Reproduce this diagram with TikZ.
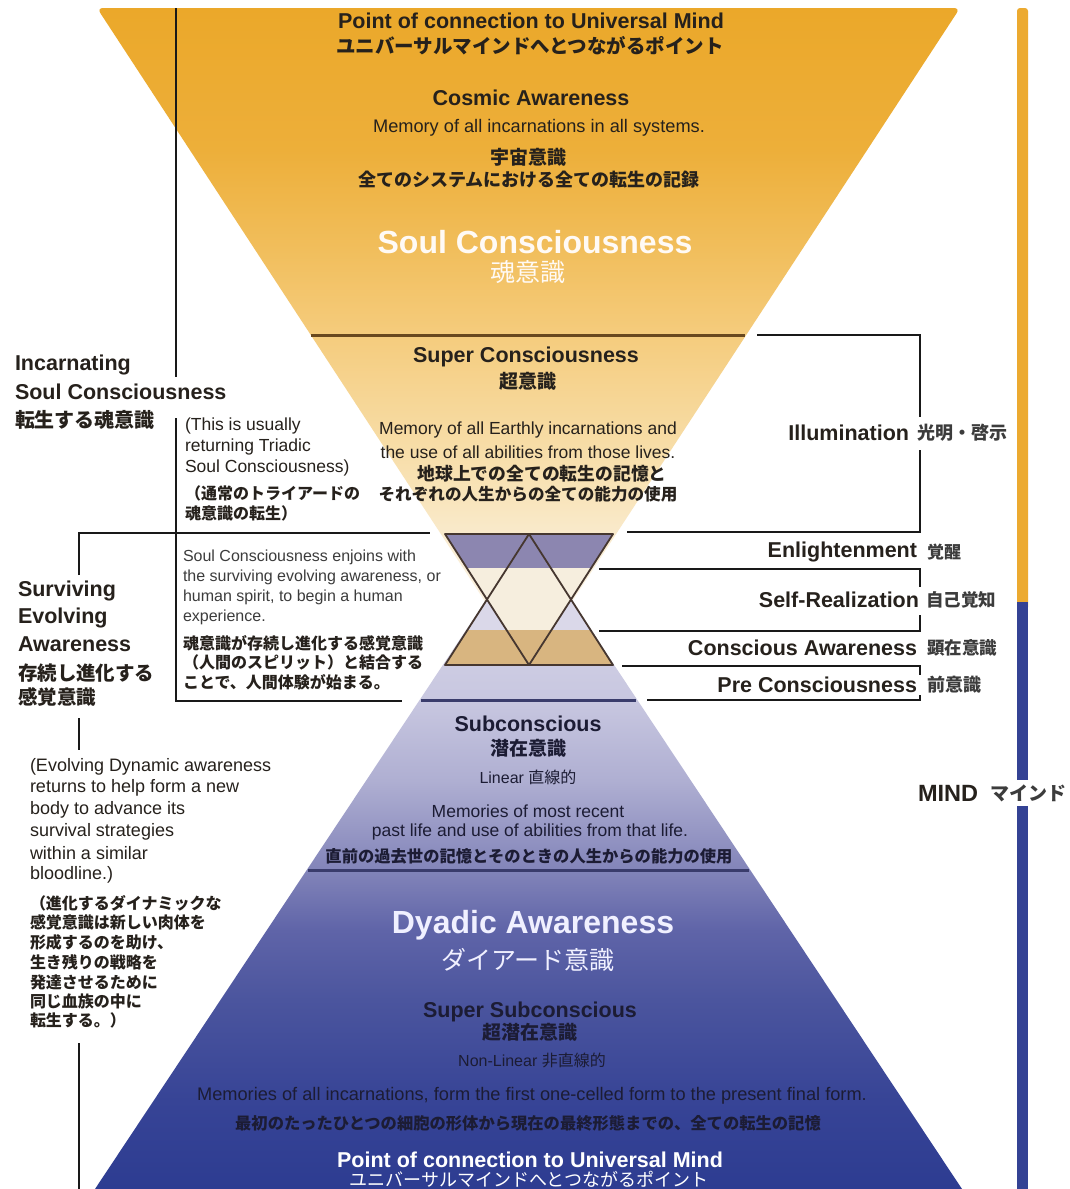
\documentclass[tikz,border=0pt]{standalone}
\usepackage{fontspec}
\setmainfont{Liberation Sans}
\newfontfamily\jpfont{Noto Sans CJK JP}
\newcommand\J[1]{{\jpfont #1}}
\newcommand\szH{\fontsize{21.5}{24}\selectfont\bfseries}
\newcommand\szB{\fontsize{17.5}{20}\selectfont}
\newcommand\szS{\fontsize{16}{19}\selectfont}
\newcommand\szBig{\fontsize{32}{36}\selectfont\bfseries}
\definecolor{ink}{RGB}{38,33,28}
\definecolor{inkb}{RGB}{28,28,52}
\definecolor{inkg}{RGB}{60,60,60}
\definecolor{lineblk}{RGB}{25,25,25}
\definecolor{orline}{RGB}{105,72,30}
\definecolor{blline}{RGB}{58,60,108}
\definecolor{barorange}{RGB}{236,170,48}
\definecolor{barblue}{RGB}{52,66,148}
\definecolor{hexpurple}{RGB}{140,134,176}
\definecolor{hexlav}{RGB}{218,216,233}
\definecolor{hexcream}{RGB}{246,238,222}
\definecolor{hextan}{RGB}{216,181,128}
\definecolor{hexline}{RGB}{70,55,48}
\definecolor{oa}{RGB}{252,246,236}
\definecolor{ob}{RGB}{250,238,215}
\definecolor{oc}{RGB}{248,226,180}
\definecolor{od}{RGB}{246,214,150}
\definecolor{oe}{RGB}{245,204,125}
\definecolor{of}{RGB}{241,190,92}
\definecolor{og}{RGB}{237,175,58}
\definecolor{oh}{RGB}{235,168,42}
\definecolor{ba}{RGB}{45,60,145}
\definecolor{bb}{RGB}{55,68,150}
\definecolor{bc}{RGB}{75,85,158}
\definecolor{bd}{RGB}{95,100,168}
\definecolor{be}{RGB}{130,132,185}
\definecolor{bf}{RGB}{175,175,210}
\definecolor{bg}{RGB}{200,199,224}
\definecolor{bh}{RGB}{222,220,235}
\pgfdeclareverticalshading{orangefun}{100bp}{color(0bp)=(oa); color(25bp)=(oa); color(33.2bp)=(ob); color(39.2bp)=(oc); color(45.3bp)=(od); color(50.2bp)=(oe); color(56.7bp)=(of); color(64.2bp)=(og); color(75bp)=(oh); color(100bp)=(oh)}
\pgfdeclareverticalshading{bluefun}{100bp}{color(0bp)=(ba); color(25bp)=(ba); color(31.8bp)=(bb); color(39.5bp)=(bc); color(44.8bp)=(bd); color(49.4bp)=(be); color(56.3bp)=(bf); color(62.4bp)=(bg); color(75bp)=(bh); color(100bp)=(bh)}
\begin{document}
\begin{tikzpicture}[x=1pt,y=-1pt,
  txt/.style={inner sep=0pt, outer sep=0pt, text=ink},
  lt/.style={txt, anchor=west},
  rt/.style={txt, anchor=east},
  wt/.style={txt, text=white},
  bt/.style={txt, text=inkb},
  brk/.style={draw=lineblk, line width=1.8pt},
  orsep/.style={draw=orline, line width=3pt},
  blsep/.style={draw=blline, line width=3pt},
  hexedge/.style={draw=hexline, line width=1.8pt, line join=round}]
\useasboundingbox (0,0) rectangle (1069,1189);
\fill[white] (0,0) rectangle (1069,1189);

% funnels
\shade[shading=bluefun] (528.5,536) -- (962,1189) -- (95,1189) -- cycle;
\shade[shading=orangefun, rounded corners=6pt] (97,8) -- (960,8) -- (528.5,668) -- cycle;

% hexagram
\begin{scope}
  \clip (445,534) -- (613,534) -- (529,665) -- cycle (613,665) -- (445,665) -- (529,534) -- cycle;
  \fill[hexpurple] (440,534) rectangle (620,568);
  \fill[hexlav] (440,568) rectangle (620,630);
  \fill[hextan] (440,630) rectangle (620,665);
\end{scope}
\begin{scope}
  \clip (445,534) -- (613,534) -- (529,665) -- cycle;
  \fill[hexcream] (440,568) rectangle (620,630);
\end{scope}
\draw[hexedge] (445,534) -- (613,534) -- (529,665) -- cycle;
\draw[hexedge] (445,665) -- (613,665) -- (529,534) -- cycle;

% separators
\draw[orsep] (311,335) -- (745,335);
\draw[blsep] (421,700) -- (636,700);
\draw[blsep] (308,870) -- (749,870);

% right bar
\fill[barorange, rounded corners=3pt] (1017,8) rectangle (1028,610);
\fill[barblue] (1017,602) rectangle (1028,1189);

% left lines
\draw[brk] (176,8) -- (176,377);
\draw[brk] (176,418) -- (176,701) -- (402,701);
\draw[brk] (79,575) -- (79,533) -- (430,533);
\draw[brk] (79,718) -- (79,750);
\draw[brk] (79,1043) -- (79,1189);

% right brackets
\draw[brk] (757,335) -- (920,335) -- (920,417);
\draw[brk] (920,450) -- (920,532) -- (627,532);
\draw[brk] (599,569) -- (920,569) -- (920,587);
\draw[brk] (920,615) -- (920,631) -- (599,631);
\draw[brk] (622,666) -- (920,666) -- (920,675);
\draw[brk] (920,695) -- (920,700) -- (647,700);

% top funnel texts
\node[txt, font=\szH] (pcu) at (531,21) {Point of connection to Universal Mind};
\node[txt, font=\fontsize{19.5}{22}\selectfont\bfseries] (pcuj) at (530,46) {\J{ユニバーサルマインドへとつながるポイント}};
\node[txt, font=\szH] (cosmic) at (531,98) {Cosmic Awareness};
\node[txt, font=\fontsize{18.2}{21}\selectfont] (cosmicm) at (539,128) {Memory of all incarnations in all systems.};
\node[txt, font=\fontsize{19}{22}\selectfont\bfseries] (cosmicj) at (528,157) {\J{宇宙意識}};
\node[txt, font=\fontsize{18}{21}\selectfont\bfseries] (cosmicjm) at (529,180) {\J{全てのシステムにおける全ての転生の記録}};
\node[wt, font=\szBig, text=white!96!orange] (soul) at (535,242) {Soul Consciousness};
\node[wt, font=\fontsize{25}{28}\selectfont, text=white!96!orange] (soulj) at (528,272) {\J{魂意識}};

\node[txt, font=\szH] (super) at (526,357) {Super Consciousness};
\node[txt, font=\fontsize{19}{22}\selectfont\bfseries] (superj) at (528,381) {\J{超意識}};
\node[txt, font=\szB] (superm1) at (528,430) {Memory of all Earthly incarnations and};
\node[txt, font=\szB] (superm2) at (528,452) {the use of all abilities from those lives.};
\node[txt, font=\fontsize{17.8}{20}\selectfont\bfseries] (superj1) at (542,474) {\J{地球上での全ての転生の記憶と}};
\node[txt, font=\fontsize{16.6}{20}\selectfont\bfseries] (superj2) at (528,494) {\J{それぞれの人生からの全ての能力の使用}};

% bottom funnel texts
\node[bt, font=\szH] (subc) at (528,724) {Subconscious};
\node[bt, font=\fontsize{19}{22}\selectfont\bfseries] (subcj) at (528,748) {\J{潜在意識}};
\node[bt, font=\szS] (linear) at (528,777) {Linear \J{直線的}};
\node[bt, font=\szB] (subm1) at (528,811) {Memories of most recent};
\node[bt, font=\szB] (subm2) at (530,832) {past life and use of abilities from that life.};
\node[bt, font=\fontsize{16.3}{19}\selectfont\bfseries] (subj) at (529,856) {\J{直前の過去世の記憶とそのときの人生からの能力の使用}};
\node[wt, font=\szBig, text=white!94!blue] (dyadic) at (533,925) {Dyadic Awareness};
\node[wt, font=\fontsize{25}{28}\selectfont, text=white!94!blue] (dyadicj) at (528,960) {\J{ダイアード意識}};
\node[bt, font=\szH] (ssub) at (530,1012) {Super Subconscious};
\node[bt, font=\fontsize{19}{22}\selectfont\bfseries] (ssubj) at (530,1032) {\J{超潜在意識}};
\node[bt, font=\szS] (nonlin) at (532,1060) {Non-Linear \J{非直線的}};
\node[bt, font=\fontsize{18.2}{21}\selectfont] (ssubm) at (532,1096) {Memories of all incarnations, form the first one-celled form to the present final form.};
\node[bt, font=\fontsize{16.3}{19}\selectfont\bfseries] (ssubmj) at (528,1123) {\J{最初のたったひとつの細胞の形体から現在の最終形態までの、全ての転生の記憶}};
\node[wt, font=\szH] (pcl) at (530,1160) {Point of connection to Universal Mind};
\node[wt, font=\fontsize{18}{21}\selectfont] (pclj) at (529,1179) {\J{ユニバーサルマインドへとつながるポイント}};

% left texts
\node[lt, font=\szH] (inc1) at (15,365) {Incarnating};
\node[lt, font=\szH] (inc2) at (15,392) {Soul Consciousness};
\node[lt, font=\fontsize{20}{23}\selectfont\bfseries] (incj) at (15,420) {\J{転生する魂意識}};
\node[lt, font=\szB] (tri1) at (185,426) {(This is usually};
\node[lt, font=\szB] (tri2) at (185,447) {returning Triadic};
\node[lt, font=\szB] (tri3) at (185,468) {Soul Consciousness)};
\node[lt, font=\szS\bfseries] (trij1) at (185,493) {\J{（通常のトライアードの}};
\node[lt, font=\szS\bfseries] (trij2) at (185,513) {\J{魂意識の転生）}};

\node[lt, font=\szS, text=inkg] (box1) at (183,557) {Soul Consciousness enjoins with};
\node[lt, font=\szS, text=inkg] (box2) at (183,577) {the surviving evolving awareness, or};
\node[lt, font=\szS, text=inkg] (box3) at (183,597) {human spirit, to begin a human};
\node[lt, font=\szS, text=inkg] (box4) at (183,617) {experience.};
\node[lt, font=\szS\bfseries] (boxj1) at (183,643) {\J{魂意識が存続し進化する感覚意識}};
\node[lt, font=\szS\bfseries] (boxj2) at (183,662) {\J{（人間のスピリット）と結合する}};
\node[lt, font=\szS\bfseries] (boxj3) at (183,682) {\J{ことで、人間体験が始まる。}};

\node[lt, font=\szH] (sev1) at (18,591) {Surviving};
\node[lt, font=\szH] (sev2) at (18,618) {Evolving};
\node[lt, font=\szH] (sev3) at (18,644) {Awareness};
\node[lt, font=\fontsize{19.5}{22}\selectfont\bfseries] (sevj1) at (18,673) {\J{存続し進化する}};
\node[lt, font=\fontsize{19.5}{22}\selectfont\bfseries] (sevj2) at (18,697) {\J{感覚意識}};

\node[lt, font=\fontsize{18}{21}\selectfont] (evo1) at (30,767) {(Evolving Dynamic awareness};
\node[lt, font=\fontsize{18}{21}\selectfont] (evo2) at (30,788) {returns to help form a new};
\node[lt, font=\fontsize{18}{21}\selectfont] (evo3) at (30,810) {body to advance its};
\node[lt, font=\fontsize{18}{21}\selectfont] (evo4) at (30,832) {survival strategies};
\node[lt, font=\fontsize{18}{21}\selectfont] (evo5) at (30,853) {within a similar};
\node[lt, font=\fontsize{18}{21}\selectfont] (evo6) at (30,875) {bloodline.)};
\node[lt, font=\szS\bfseries] (evoj1) at (30,903) {\J{（進化するダイナミックな}};
\node[lt, font=\szS\bfseries] (evoj2) at (30,922) {\J{感覚意識は新しい肉体を}};
\node[lt, font=\szS\bfseries] (evoj3) at (30,942) {\J{形成するのを助け、}};
\node[lt, font=\szS\bfseries] (evoj4) at (30,962) {\J{生き残りの戦略を}};
\node[lt, font=\szS\bfseries] (evoj5) at (30,982) {\J{発達させるために}};
\node[lt, font=\szS\bfseries] (evoj6) at (30,1001) {\J{同じ血族の中に}};
\node[lt, font=\szS\bfseries] (evoj7) at (30,1020) {\J{転生する。）}};

% right labels
\node[rt, font=\szH] (illum) at (909,433) {Illumination};
\node[lt, font=\fontsize{18}{21}\selectfont\bfseries, text=inkg] (illumj) at (917,433) {\J{光明・啓示}};
\node[rt, font=\szH] (enl) at (917,552) {Enlightenment};
\node[lt, font=\fontsize{17}{20}\selectfont\bfseries, text=inkg] (enlj) at (927,552) {\J{覚醒}};
\node[rt, font=\szH] (selfr) at (919,600) {Self-Realization};
\node[lt, font=\fontsize{17.5}{20}\selectfont\bfseries, text=inkg] (selfrj) at (926,600) {\J{自己覚知}};
\node[rt, font=\szH] (consc) at (917,648) {Conscious Awareness};
\node[lt, font=\fontsize{17.5}{20}\selectfont\bfseries, text=inkg] (conscj) at (927,648) {\J{顕在意識}};
\node[rt, font=\szH] (prec) at (917,685) {Pre Consciousness};
\node[lt, font=\fontsize{18}{21}\selectfont\bfseries, text=inkg] (precj) at (927,685) {\J{前意識}};
\node[lt, font=\fontsize{23.5}{26}\selectfont\bfseries] (mind) at (918,793) {MIND};
\node[lt, font=\fontsize{19}{22}\selectfont\bfseries, text=inkg, fill=white, inner xsep=2pt, inner ysep=4pt] (mindj) at (988,793) {\J{マインド}};
\end{tikzpicture}
\end{document}
